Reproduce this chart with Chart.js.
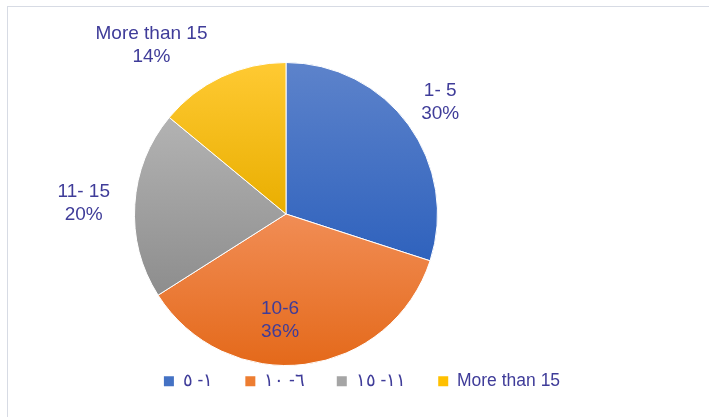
<!DOCTYPE html>
<html>
<head>
<meta charset="utf-8">
<script src="https://cdn.jsdelivr.net/npm/chart.js@4/dist/chart.umd.min.js"></script>
<style>
    html, body { margin: 0; padding: 0; background: #ffffff; overflow: hidden; width: 709px; height: 417px; }
    #frame { position: absolute; left: 7px; top: 6px; width: 708px; height: 410px; border: 1px solid #d7dbe4; }
    canvas { display: block; }
</style>
</head>
<body>
<div id="frame"><canvas id="age-chart" width="708" height="410"></canvas></div>
<script>
// data
const categories = ['1- 5', '10-6', '11- 15', 'More than 15'];
const legendLabels = ['١- ٥', '٦- ١٠', '١١- ١٥', 'More than 15'];
const shares = [30, 36, 20, 14];

// styles
const topColors = ['#5d83cb', '#f18d55', '#b3b3b3', '#ffca33'];
const bottomColors = ['#2f62bd', '#e4691a', '#8d8d8d', '#e9ae00'];
const legendColors = ['#4472c4', '#ed7d31', '#a5a5a5', '#ffc000'];
const textColor = '#3f3c99';
const labelRadius = [1.258, 0.705, 1.337, 1.423];
const labelShift = [0, 10.4, -0.5, -13.4];
const pie = { cx: 278, cy: 207, r: 152 };

const total = shares.reduce((a, b) => a + b, 0);

function sliceFill(context) {
    const i = context.dataIndex;
    const area = context.chart.chartArea;
    if (!area) {
        return legendColors[i];
    }
    const cy = (area.top + area.bottom) / 2;
    const R = Math.min(area.right - area.left, area.bottom - area.top) / 2;
    const before = shares.slice(0, i).reduce((a, b) => a + b, 0);
    const a0 = before / total * Math.PI * 2;
    const a1 = (before + shares[i]) / total * Math.PI * 2;
    let minY = cy, maxY = cy;
    for (let k = 0; k <= 60; k++) {
        const t = a0 + (a1 - a0) * k / 60;
        const yy = cy - R * Math.cos(t);
        minY = Math.min(minY, yy);
        maxY = Math.max(maxY, yy);
    }
    const g = context.chart.ctx.createLinearGradient(0, minY, 0, maxY);
    g.addColorStop(0, topColors[i]);
    g.addColorStop(1, bottomColors[i]);
    return g;
}

// place the pie where the original plot area sits
const placePie = {
    id: 'placePie',
    afterLayout(chart) {
        const a = chart.chartArea;
        a.left = pie.cx - pie.r;
        a.right = pie.cx + pie.r;
        a.top = pie.cy - pie.r;
        a.bottom = pie.cy + pie.r;
        a.width = pie.r * 2;
        a.height = pie.r * 2;
    }
};

// category name + percentage next to each slice
const sliceLabels = {
    id: 'sliceLabels',
    afterDatasetsDraw(chart) {
        const ctx = chart.ctx;
        const meta = chart.getDatasetMeta(0);
        ctx.save();
        ctx.font = '19px "Liberation Sans", Arial, sans-serif';
        ctx.fillStyle = textColor;
        ctx.textAlign = 'center';
        ctx.textBaseline = 'middle';
        meta.data.forEach((arc, i) => {
            const p = arc.getProps(['x', 'y', 'startAngle', 'endAngle', 'outerRadius'], true);
            const a = (p.startAngle + p.endAngle) / 2 + labelShift[i] * Math.PI / 180;
            const r = p.outerRadius * labelRadius[i];
            const lx = p.x + Math.cos(a) * r;
            const ly = p.y + Math.sin(a) * r;
            const pct = Math.round(shares[i] / total * 100) + '%';
            ctx.fillText(categories[i], lx, ly - 11.5);
            ctx.fillText(pct, lx, ly + 11.5);
        });
        ctx.restore();
    }
};

const ctx = document.getElementById('age-chart');
const chart = new Chart(ctx, {
    type: 'pie',
    data: {
        labels: legendLabels,
        datasets: [{
            data: shares,
            backgroundColor: sliceFill,
            borderColor: '#ffffff',
            borderWidth: 1
        }]
    },
    options: {
        responsive: false,
        animation: false,
        events: [],
        layout: {
            padding: { bottom: 17 }
        },
        plugins: {
            tooltip: { enabled: false },
            legend: {
                position: 'bottom',
                labels: {
                    boxWidth: 10,
                    boxHeight: 10,
                    padding: 32,
                    color: textColor,
                    font: { family: '"Liberation Sans", Arial, sans-serif', size: 17.5 },
                    generateLabels: function (c) {
                        const items = Chart.overrides.pie.plugins.legend.labels.generateLabels(c);
                        items.forEach((item, i) => {
                            item.fillStyle = legendColors[i];
                            item.lineWidth = 0;
                            item.strokeStyle = legendColors[i];
                        });
                        return items;
                    }
                }
            }
        }
    },
    plugins: [placePie, sliceLabels]
});
</script>
</body>
</html>
